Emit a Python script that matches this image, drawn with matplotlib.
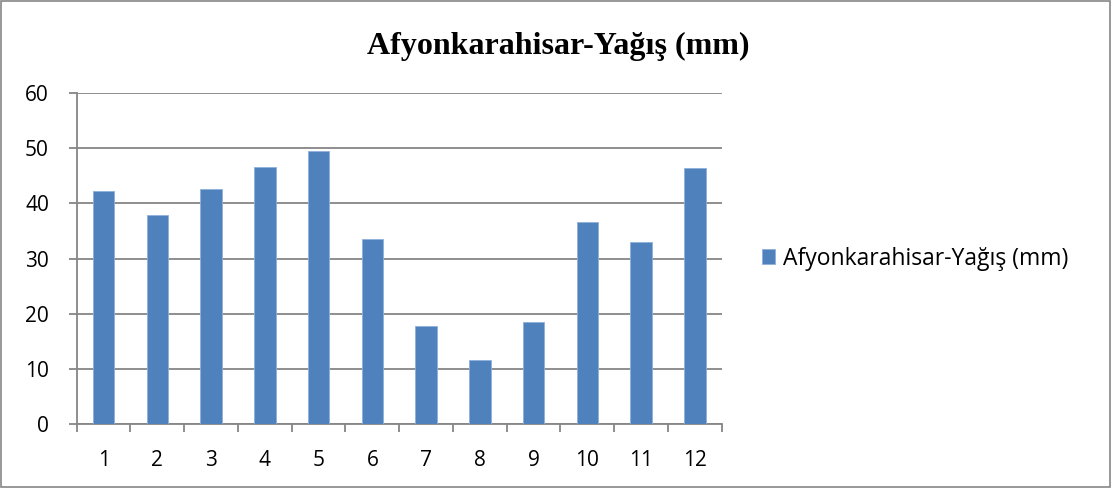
import numpy as np
import matplotlib.pyplot as plt
from matplotlib.patches import Rectangle
from matplotlib.ticker import FixedLocator

plt.rcParams['font.family'] = ['Open Sans', 'DejaVu Sans']

months = [1, 2, 3, 4, 5, 6, 7, 8, 9, 10, 11, 12]
rain_mm = [42.2, 37.9, 42.7, 46.7, 49.6, 33.6, 17.7, 11.6, 18.5, 36.7, 33.1, 46.5]
series_name = 'Afyonkarahisar-Yağış (mm)'
y_ticks = [0, 10, 20, 30, 40, 50, 60]

BAR_COLOR = '#4F81BD'
GRID_COLOR = '#868686'

fig = plt.figure(figsize=(11.12, 4.88), dpi=100)
ax = fig.add_axes([0.069, 0.131, 0.580, 0.678])

ax.bar(months, rain_mm, width=0.40, color=BAR_COLOR,
       edgecolor='#8DB0DA', linewidth=0.6, label=series_name, zorder=3)

ax.set_xlim(0.5, 12.5)
ax.set_ylim(0, 60)
ax.set_yticks(y_ticks)
ax.set_xticks(months)
ax.set_xticklabels([str(m) for m in months])
ax.xaxis.set_minor_locator(FixedLocator(np.arange(0.5, 13, 1)))

ax.grid(axis='y', color=GRID_COLOR, linewidth=1.3, zorder=0)
for side in ['top', 'right']:
    ax.spines[side].set_visible(False)
for side in ['left', 'bottom']:
    ax.spines[side].set_color(GRID_COLOR)
    ax.spines[side].set_linewidth(1.3)

ax.tick_params(axis='x', which='major', length=0, pad=19, labelsize=15)
ax.tick_params(axis='x', which='minor', length=6, width=1.3, color=GRID_COLOR,
               direction='out')
ax.tick_params(axis='y', length=6, width=1.3, color=GRID_COLOR, pad=14,
               labelsize=15)

fig.text(0.502, 0.905, series_name, ha='center', va='center', fontsize=23,
         fontweight='bold', family=['Liberation Serif', 'DejaVu Serif'])

leg = ax.legend(loc='center left', bbox_to_anchor=(1.03, 0.5), frameon=False,
                fontsize=16.5, handlelength=0.6, handleheight=0.6,
                handletextpad=0.35)

fig.add_artist(Rectangle((0.001, 0.002), 0.997, 0.995, transform=fig.transFigure,
                         fill=False, edgecolor=GRID_COLOR, linewidth=1.2))

fig.savefig('out.png', dpi=100, facecolor='white')
